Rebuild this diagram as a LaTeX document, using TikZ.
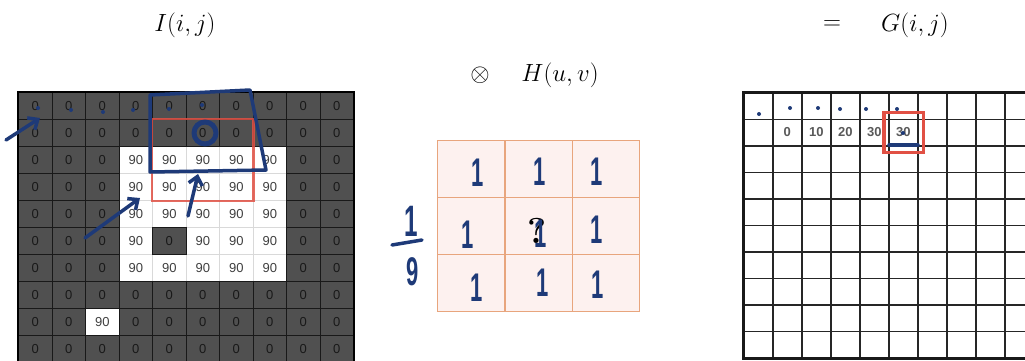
\documentclass[tikz,border=0pt]{standalone}
\usepackage{fontspec}
\setsansfont{Liberation Sans}
\usetikzlibrary{arrows.meta, positioning, calc}
\definecolor{cellgray}{RGB}{80,80,80}
\definecolor{inkblue}{RGB}{30,58,120}
\definecolor{boxred}{RGB}{225,80,68}
\definecolor{kernfill}{RGB}{253,241,239}
\definecolor{kernline}{RGB}{232,165,125}

% 输入图像 I(i,j) 的像素值
\newcommand{\imgdata}{{0,0,0,0,0,0,0,0,0,0},{0,0,0,0,0,0,0,0,0,0},{0,0,0,90,90,90,90,90,0,0},{0,0,0,90,90,90,90,90,0,0},{0,0,0,90,90,90,90,90,0,0},{0,0,0,90,0,90,90,90,0,0},{0,0,0,90,90,90,90,90,0,0},{0,0,0,0,0,0,0,0,0,0},{0,0,90,0,0,0,0,0,0,0},{0,0,0,0,0,0,0,0,0,0}}

\tikzset{
  darkcell/.style={draw=black!90, line width=1.2pt, fill=cellgray, text=black!90,
    minimum width=33.5pt, minimum height=27pt, inner sep=0pt, anchor=north west,
    font=\sffamily\fontsize{13}{13}\selectfont},
  lightcell/.style={darkcell, draw=black!15, fill=white, text=black!75},
  outcell/.style={draw=black!85, line width=1.5pt, fill=white, minimum width=29pt,
    minimum height=26.5pt, inner sep=0pt, anchor=north west},
  outnum/.style={text=black!65, inner sep=0pt, font=\sffamily\bfseries\fontsize{13}{13}\selectfont},
  kerncell/.style={draw=kernline, line width=1.2pt, fill=kernfill, minimum width=67.3pt,
    minimum height=57pt, inner sep=0pt, anchor=north west},
  ink/.style={draw=inkblue, line width=3.5pt, line cap=round, line join=round},
  inkarrow/.style={ink, -{Straight Barb[length=8pt, width=14pt]}},
  inktext/.style={text=inkblue, inner sep=0pt, xscale=0.55, transform shape,
    font=\sffamily\bfseries\fontsize{40}{40}\selectfont},
  title/.style={inner sep=0pt, font=\fontsize{26}{30}\selectfont}
}

\begin{document}
\begin{tikzpicture}[x=1pt, y=-1pt]
  \useasboundingbox (0,0) rectangle (1025,361);
  \clip (0,0) rectangle (1025,361);

  % 标题
  \node[title] (imgI) at (185,25) {$I(i,j)$};
  \node[title] (conv) at (480,75) {$\otimes$};
  \node[title] (kernH) at (560,75) {$H(u,v)$};
  \node[title] (eq) at (832,25) {$=$};
  \node[title] (outG) at (915,25) {$G(i,j)$};

  % 输入图像：先画亮像素，再画暗像素（暗边框在上层）
  \foreach \row [count=\r] in \imgdata {
    \foreach \v [count=\c] in \row {
      \ifnum\v>0
        \node[lightcell] (I-\r-\c) at ({18+(\c-1)*33.5},{92+(\r-1)*27}) {\v};
      \fi
    }
  }
  \foreach \row [count=\r] in \imgdata {
    \foreach \v [count=\c] in \row {
      \ifnum\v=0
        \node[darkcell] (I-\r-\c) at ({18+(\c-1)*33.5},{92+(\r-1)*27}) {\v};
      \fi
    }
  }
  \draw[black, line width=2.5pt] (I-1-1.north west) rectangle (I-10-10.south east);
  \draw[boxred, line width=2.5pt, opacity=0.85] (I-2-5.north west) rectangle (I-4-7.south east);

  % 卷积核 H(u,v)
  \foreach \r in {1,2,3} {
    \foreach \c in {1,2,3} {
      \node[kerncell] (H-\r-\c) at ({437+(\c-1)*67.3},{140+(\r-1)*57}) {};
    }
  }
  \node[inner sep=0pt, font=\bfseries\fontsize{36}{36}\selectfont] (qmark) at (537,231) {?};

  % 输出图像 G(i,j)
  \foreach \r in {1,...,10} {
    \foreach \c in {1,...,10} {
      \node[outcell] (G-\r-\c) at ({743+(\c-1)*29},{92+(\r-1)*26.5}) {};
    }
  }
  \draw[black!90, line width=3pt] (G-1-1.north west) rectangle (G-10-10.south east);
  \foreach \c/\v in {2/0, 3/10, 4/20, 5/30, 6/30} {
    \node[outnum] (g-\c) at (G-2-\c) {\v};
  }
  \draw[boxred, line width=3.5pt] ($(G-2-6.north west)+(-4,-6)$) rectangle ($(G-2-6.south east)+(5,6)$);

  % 手写批注：输入图像
  \draw[ink] (150,95) -- (250,90) -- (266,170) -- (150,172) -- cycle;
  \draw[ink, line width=5pt] (205,133) circle[radius=11];
  \coordinate (upA) at (188,216);
  \coordinate (upB) at (198,174);
  \draw[inkarrow] (upA) -- (upB);
  \coordinate (leftA) at (6,140);
  \coordinate (leftB) at (40,118);
  \draw[inkarrow] (leftA) -- (leftB);
  \coordinate (lowA) at (85,238);
  \coordinate (lowB) at (140,198);
  \draw[inkarrow] (lowA) -- (lowB);
  \foreach \p in {(38,108),(71,110),(103,112),(133,110),(169,109),(202,105)} {
    \fill[inkblue] \p circle[radius=2];
  }

  % 手写批注：卷积核中的 1 与 1/9
  \foreach \x/\y [count=\k] in {478/173, 540/172, 597/172, 468/235, 541/234, 597/230, 477/288, 543/283, 598/285} {
    \node[inktext] (one-\k) at (\x,\y) {1};
  }
  \node[inktext, font=\sffamily\bfseries\fontsize{44}{44}\selectfont] (fracnum) at (411,221) {1};
  \coordinate (barL) at (392,245);
  \coordinate (barR) at (422,240);
  \draw[ink] (barL) -- (barR);
  \node[inktext] (fracden) at (413,272) {9};

  % 手写批注：输出图像
  \foreach \p in {(759,114),(790,108),(818,108),(840,109),(866,109),(897,109),(903,133)} {
    \fill[inkblue] \p circle[radius=2];
  }
  \coordinate (ulA) at (889,145);
  \coordinate (ulB) at (918,145);
  \draw[ink] (ulA) -- (ulB);
\end{tikzpicture}
\end{document}
